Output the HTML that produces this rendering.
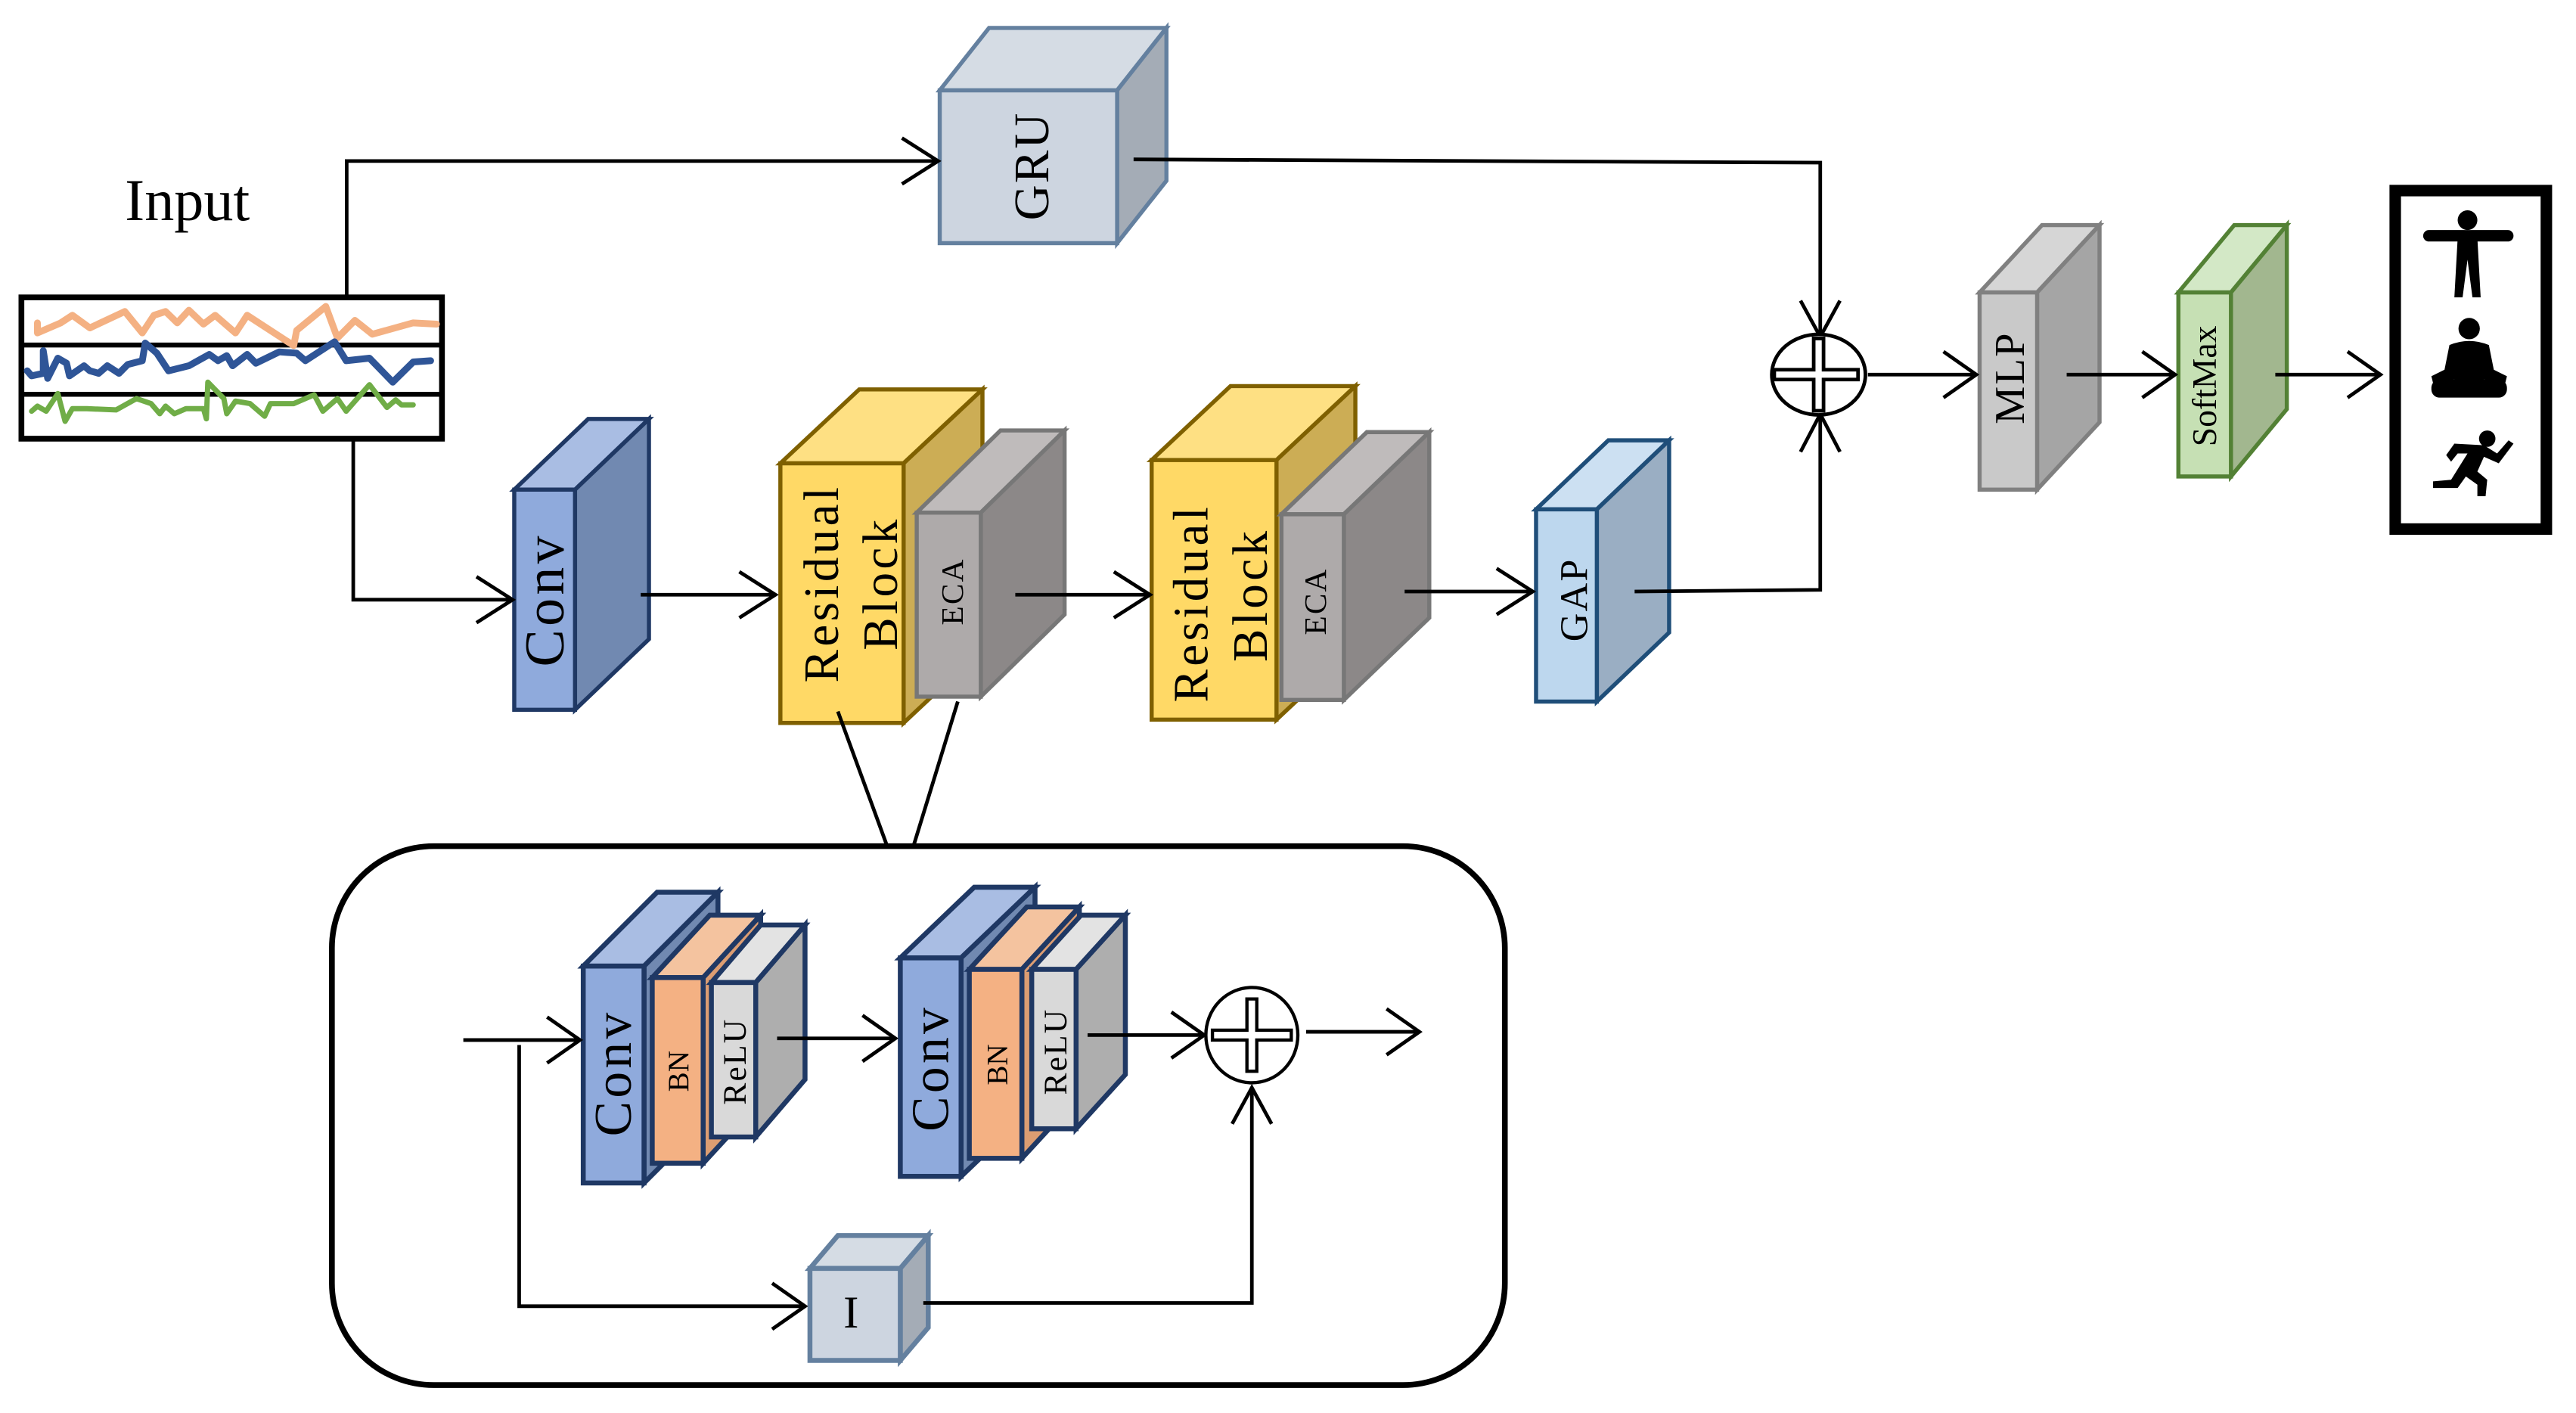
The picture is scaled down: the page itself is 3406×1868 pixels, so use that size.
<!DOCTYPE html>
<html><head><meta charset="utf-8"><style>
html,body{margin:0;padding:0;background:#fff;}
svg{display:block;}
text{font-family:"Liberation Serif",serif;fill:#000;}
</style></head><body>
<svg width="3406" height="1868" viewBox="0 0 1568 860" xmlns="http://www.w3.org/2000/svg">
<rect x="0" y="0" width="1568" height="860" fill="#fff"/>

<!-- Input -->
<text x="114" y="134" font-size="36" text-anchor="middle">Input</text>
<rect x="13" y="181" width="256" height="86" fill="#fff" stroke="#000" stroke-width="3.5"/>
<line x1="12" y1="210" x2="270" y2="210" stroke="#000" stroke-width="3"/>
<line x1="12" y1="240" x2="270" y2="240" stroke="#000" stroke-width="3"/>
<g transform="translate(13 175) scale(0.1773 0.1536) translate(-75 0)" fill="none" stroke-linejoin="round" stroke-linecap="round">
<polyline vector-effect="non-scaling-stroke" stroke="#f4b183" stroke-width="9" points="130,140 130,180 210,140 250,110 310,160 430,95 490,180 530,110 570,95 610,140 650,90 700,145 740,110 810,180 850,110 1010,230 1020,170 1120,75 1160,200 1220,130 1280,185 1420,140 1500,145"/>
<polyline vector-effect="non-scaling-stroke" stroke="#2f5597" stroke-width="9" points="95,330 110,350 150,340 150,250 165,360 200,280 230,300 240,350 290,310 310,330 340,340 370,310 410,340 440,305 490,290 500,220 540,260 580,330 650,310 720,265 750,290 780,270 800,310 850,265 880,300 960,255 1020,260 1050,290 1150,215 1190,290 1270,280 1350,375 1420,295 1480,290"/>
<polyline vector-effect="non-scaling-stroke" stroke="#70ad47" stroke-width="7" points="110,490 130,470 160,490 200,420 225,530 250,480 300,480 400,485 470,440 520,460 550,500 570,470 600,500 640,480 700,480 710,520 715,375 770,440 780,500 810,450 860,460 910,510 930,460 1010,460 1080,425 1110,490 1160,440 1190,490 1270,385 1330,475 1360,445 1380,465 1420,465"/>
</g>

<g stroke-width="2.5" stroke-linejoin="miter">
<g stroke="#64809f">
<polygon points="572,55 602,17 710,17 680,55" fill="#d5dce4"/>
<polygon points="680,55 710,17 710,110 680,148" fill="#a4acb6"/>
<rect x="572" y="55" width="108" height="93" fill="#cdd5e0"/>
</g>
<g stroke="#1f3864">
<polygon points="313,298 358,255 395,255 350,298" fill="#a9bde3"/>
<polygon points="350,298 395,255 395,389 350,432" fill="#7189b1"/>
<rect x="313" y="298" width="37" height="134" fill="#8faadc"/>
</g>
<g stroke="#7f6000">
<polygon points="475,282 523,237 598,237 550,282" fill="#fee083"/>
<polygon points="550,282 598,237 598,395 550,440" fill="#ccad55"/>
<rect x="475" y="282" width="75" height="158" fill="#ffd966"/>
</g>
<g stroke="#777">
<polygon points="558,312 609,262 648,262 597,312" fill="#bfbbbb"/>
<polygon points="597,312 648,262 648,374 597,424" fill="#8c8888"/>
<rect x="558" y="312" width="39" height="112" fill="#aeaaaa"/>
</g>
<g stroke="#7f6000">
<polygon points="701,280 749,235 825,235 777,280" fill="#fee083"/>
<polygon points="777,280 825,235 825,393 777,438" fill="#ccad55"/>
<rect x="701" y="280" width="76" height="158" fill="#ffd966"/>
</g>
<g stroke="#777">
<polygon points="780,313 832,263 870,263 818,313" fill="#bfbbbb"/>
<polygon points="818,313 870,263 870,376 818,426" fill="#8c8888"/>
<rect x="780" y="313" width="38" height="113" fill="#aeaaaa"/>
</g>
<g stroke="#1f4e79">
<polygon points="935,310 979,268 1016,268 972,310" fill="#cce0f2"/>
<polygon points="972,310 1016,268 1016,385 972,427" fill="#9aaec3"/>
<rect x="935" y="310" width="37" height="117" fill="#bdd7ee"/>
</g>
<g stroke="#808080">
<polygon points="1205,178 1243,137 1278,137 1240,178" fill="#d6d6d6"/>
<polygon points="1240,178 1278,137 1278,257 1240,298" fill="#a5a5a5"/>
<rect x="1205" y="178" width="35" height="120" fill="#c9c9c9"/>
</g>
<g stroke="#538135">
<polygon points="1326,178 1360,137 1392,137 1358,178" fill="#d3e8c6"/>
<polygon points="1358,178 1392,137 1392,249 1358,290" fill="#a2b78f"/>
<rect x="1326" y="178" width="32" height="112" fill="#c6e0b4"/>
</g>
</g>

<g fill="none" stroke="#000" stroke-width="2.2">
<polyline points="211,181 211,98 571,98"/>
<polyline points="549,84 571,98 549,112"/>
<polyline points="215,267 215,365 312,365"/>
<polyline points="290,351 312,365 290,379"/>
<polyline points="690,97 1108,99 1108,205"/>
<polyline points="1096,183 1108,205 1120,183"/>
<polyline points="995,360 1108,359 1108,252"/>
<polyline points="1096,275 1108,252 1120,275"/>
<line x1="390" y1="362" x2="472" y2="362"/><polyline points="450,348 472,362 450,376"/>
<line x1="618" y1="362" x2="700" y2="362"/><polyline points="678,348 700,362 678,376"/>
<line x1="855" y1="360" x2="933" y2="360"/><polyline points="911,346 933,360 911,374"/>
<line x1="1137" y1="228" x2="1203" y2="228"/><polyline points="1183,214 1203,228 1183,242"/>
<line x1="1258" y1="228" x2="1324" y2="228"/><polyline points="1304,214 1324,228 1304,242"/>
<line x1="1385" y1="228" x2="1449" y2="228"/><polyline points="1429,214 1449,228 1429,242"/>
<line x1="510" y1="433" x2="540" y2="515"/>
<line x1="583" y1="427" x2="556" y2="515"/>
</g>

<ellipse cx="1107" cy="228" rx="28.5" ry="24.5" fill="#fff" stroke="#000" stroke-width="2.2"/>
<path d="M1104,206 h6 v19 h21 v6 h-21 v19 h-6 v-19 h-24 v-6 h24 z" fill="#fff" stroke="#000" stroke-width="2.2"/>

<text transform="translate(638,101) rotate(-90)" font-size="30" text-anchor="middle" letter-spacing="1">GRU</text>
<text transform="translate(343,365) rotate(-90)" font-size="34" text-anchor="middle" letter-spacing="2">Conv</text>
<text transform="translate(510,355) rotate(-90)" font-size="30" text-anchor="middle" letter-spacing="2">Residual</text>
<text transform="translate(546,355) rotate(-90)" font-size="30" text-anchor="middle" letter-spacing="2">Block</text>
<text transform="translate(586,360) rotate(-90)" font-size="19" text-anchor="middle" letter-spacing="1">ECA</text>
<text transform="translate(735,367) rotate(-90)" font-size="30" text-anchor="middle" letter-spacing="2">Residual</text>
<text transform="translate(771,362) rotate(-90)" font-size="30" text-anchor="middle" letter-spacing="2">Block</text>
<text transform="translate(807,366) rotate(-90)" font-size="19" text-anchor="middle" letter-spacing="1">ECA</text>
<text transform="translate(966,365) rotate(-90)" font-size="24" text-anchor="middle" letter-spacing="1">GAP</text>
<text transform="translate(1232,230) rotate(-90)" font-size="26" text-anchor="middle" letter-spacing="1">MLP</text>
<text transform="translate(1349,235) rotate(-90)" font-size="21" text-anchor="middle">SoftMax</text>

<rect x="1458" y="116" width="92" height="206" fill="#fff" stroke="#000" stroke-width="7"/>
<g fill="#000">
<circle cx="1502" cy="134" r="6"/>
<rect x="1475" y="140" width="55" height="7" rx="3.5"/>
<polygon points="1496,145 1508,145 1510,181 1505,181 1502,158 1499,181 1494,181"/>
<circle cx="1503" cy="200" r="6.5"/>
<path d="M1491,210 Q1503,205 1515,210 L1518,225 L1526,229 L1525,233 L1512,231 L1512,232 L1494,232 L1494,231 L1481,233 L1480,229 L1488,225 Z"/>
<rect x="1480" y="231" width="46" height="11" rx="5"/>
<circle cx="1514" cy="267" r="5"/>
<path d="M1489,277 L1494,270 L1512,271 L1520,276 L1527,268 L1530,270 L1521,282 L1512,278 L1508,287 L1514,292 L1513,302 L1508,302 L1508,295 L1501,290 L1496,297 L1481,297 L1481,293 L1492,292 L1502,276 L1496,276 L1492,281 Z"/>
</g>

<rect x="202" y="515" width="714" height="328" rx="62" ry="62" fill="#fff" stroke="#000" stroke-width="3.5"/>

<g stroke-width="3" stroke="#1f3864">
<polygon points="355,588 400,543 437,543 392,588" fill="#a9bde3"/>
<polygon points="392,588 437,543 437,675 392,720" fill="#7189b1"/>
<rect x="355" y="588" width="37" height="132" fill="#8faadc"/>
<polygon points="397,595 432,557 463,557 428,595" fill="#f4c39f"/>
<polygon points="428,595 463,557 463,670 428,708" fill="#dc9d72"/>
<rect x="397" y="595" width="31" height="113" fill="#f4b183"/>
<polygon points="433,598 463,563 490,563 460,598" fill="#e3e3e3"/>
<polygon points="460,598 490,563 490,657 460,692" fill="#aeaeae"/>
<rect x="433" y="598" width="27" height="94" fill="#d9d9d9"/>
<polygon points="548,583 593,540 630,540 585,583" fill="#a9bde3"/>
<polygon points="585,583 630,540 630,673 585,716" fill="#7189b1"/>
<rect x="548" y="583" width="37" height="133" fill="#8faadc"/>
<polygon points="590,590 625,552 657,552 622,590" fill="#f4c39f"/>
<polygon points="622,590 657,552 657,667 622,705" fill="#dc9d72"/>
<rect x="590" y="590" width="32" height="115" fill="#f4b183"/>
<polygon points="628,590 658,557 685,557 655,590" fill="#e3e3e3"/>
<polygon points="655,590 685,557 685,654 655,687" fill="#aeaeae"/>
<rect x="628" y="590" width="27" height="97" fill="#d9d9d9"/>
</g>
<g stroke-width="3" stroke="#64809f">
<polygon points="493,772 510,752 565,752 548,772" fill="#d5dce4"/>
<polygon points="548,772 565,752 565,808 548,828" fill="#a4acb6"/>
<rect x="493" y="772" width="55" height="56" fill="#cdd5e0"/>
</g>

<g fill="none" stroke="#000" stroke-width="2.2">
<line x1="282" y1="633" x2="353" y2="633"/><polyline points="333,619 353,633 333,647"/>
<polyline points="316,636 316,795 490,795"/><polyline points="470,781 490,795 470,809"/>
<line x1="473" y1="632" x2="545" y2="632"/><polyline points="525,618 545,632 525,646"/>
<line x1="662" y1="630" x2="733" y2="630"/><polyline points="713,616 733,630 713,644"/>
<line x1="795" y1="628" x2="864" y2="628"/><polyline points="844,614 864,628 844,642"/>
<polyline points="562,793 762,793 762,662"/><polyline points="750,684 762,662 774,684"/>
</g>
<ellipse cx="762" cy="630" rx="28" ry="29" fill="#fff" stroke="#000" stroke-width="2"/>
<path d="M759,608 h6 v19 h21 v6 h-21 v19 h-6 v-19 h-21 v-6 h21 z" fill="#fff" stroke="#000" stroke-width="2"/>

<text transform="translate(384,653) rotate(-90)" font-size="32" text-anchor="middle" letter-spacing="2">Conv</text>
<text transform="translate(419,652) rotate(-90)" font-size="18" text-anchor="middle">BN</text>
<text transform="translate(454,646) rotate(-90)" font-size="20" text-anchor="middle" letter-spacing="1">ReLU</text>
<text transform="translate(577,650) rotate(-90)" font-size="32" text-anchor="middle" letter-spacing="2">Conv</text>
<text transform="translate(613,648) rotate(-90)" font-size="18" text-anchor="middle">BN</text>
<text transform="translate(649,640) rotate(-90)" font-size="20" text-anchor="middle" letter-spacing="1">ReLU</text>
<text x="518" y="808" font-size="28" text-anchor="middle">I</text>
</svg>
</body></html>
